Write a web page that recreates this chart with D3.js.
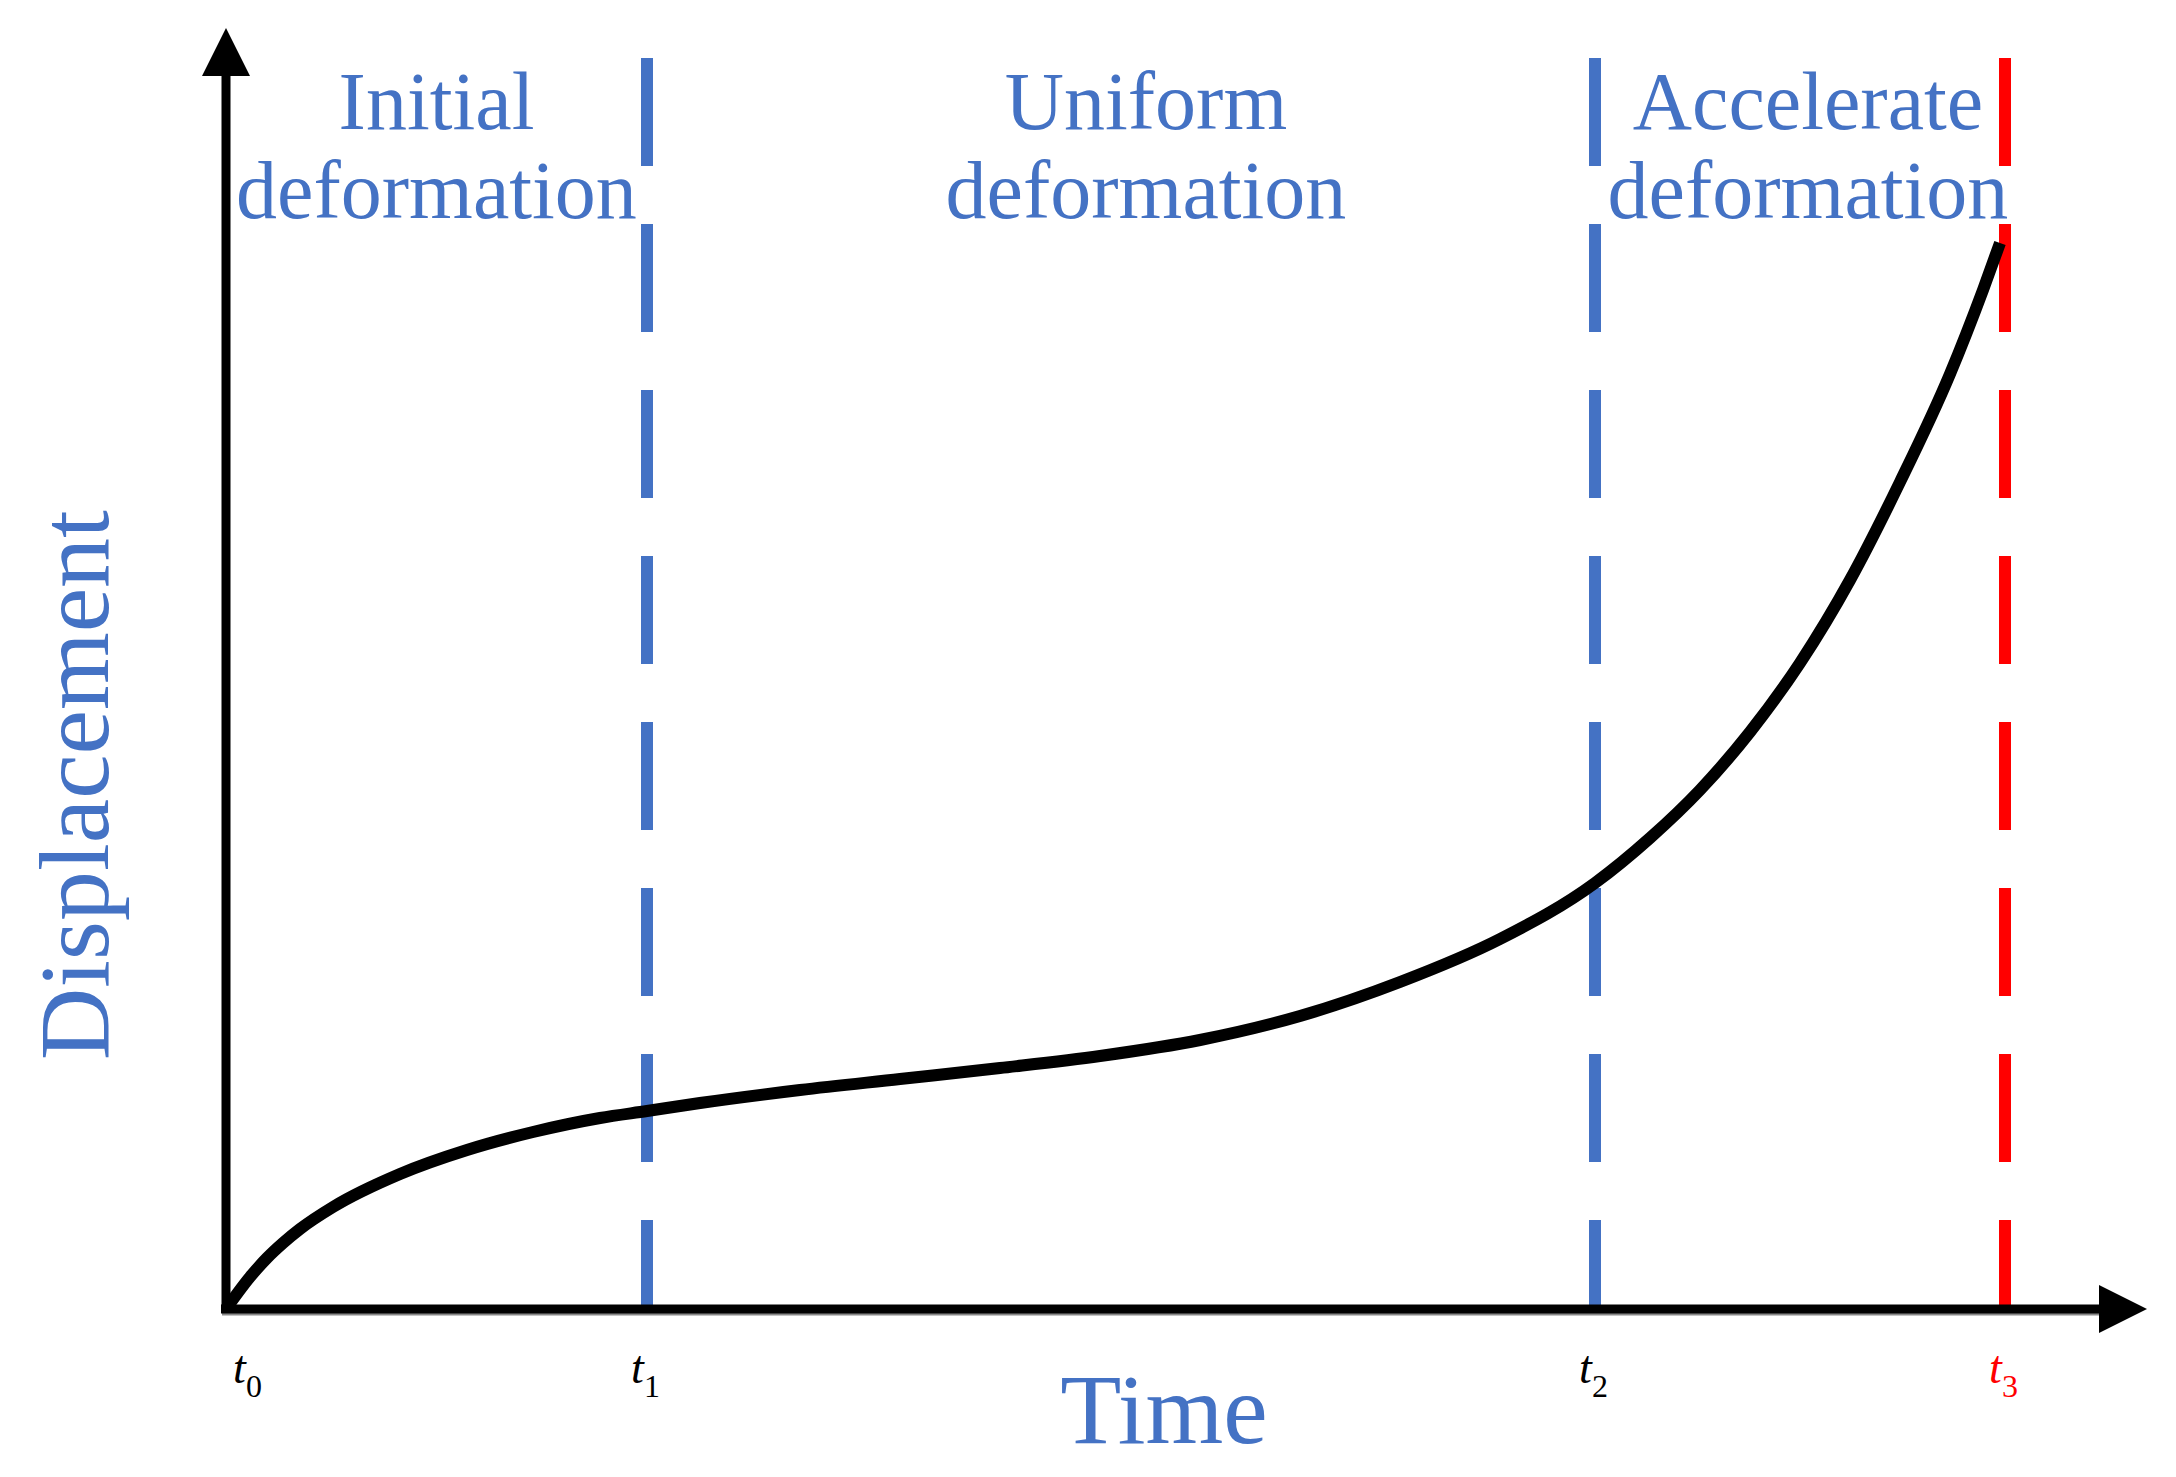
<!DOCTYPE html>
<html>
<head>
<meta charset="utf-8">
<script src="https://cdn.jsdelivr.net/npm/d3@7"></script>
<style>
  html, body { margin: 0; padding: 0; background: #ffffff; }
  svg { display: block; }
</style>
</head>
<body>
<svg id="chart" width="2176" height="1477"></svg>
<script>
// ---------------- data ----------------
const timeValues = [0, 0.24, 0.41, 0.57, 0.74, 1.07, 1.74, 2.41, 3.07, 3.74, 4.21, 4.74, 5.74, 6.74, 7.74,
                    8.74, 9.74, 10.74, 11.74, 12.74, 13.69, 14.24, 14.74, 15.24, 15.74, 16.24,
                    16.74, 17.24, 17.57, 17.74];
const displacementValues = [0, 0.32, 0.51, 0.66, 0.80, 1.02, 1.35, 1.59, 1.77, 1.91, 1.98, 2.06, 2.19, 2.30, 2.41,
                    2.53, 2.69, 2.93, 3.27, 3.70, 4.26, 4.71, 5.19, 5.77, 6.46, 7.29,
                    8.27, 9.35, 10.19, 10.66];
const boundaryTimes = [0, 4.21, 13.69, 17.79];
const boundarySubscripts = ["0", "1", "2", "3"];
const phaseNamesLine1 = ["Initial", "Uniform", "Accelerate"];
const phaseNamesLine2 = ["deformation", "deformation", "deformation"];
const xAxisTitle = "Time";
const yAxisTitle = "Displacement";
const timeMax = 19.21;
const displacementMax = 12.81;
const dashTop = 12.51;

// ---------------- layout ----------------
const svg = d3.select("#chart");
const blue = "#4472C4";
const red = "#FF0000";
const serif = "'Liberation Serif', 'Times New Roman', serif";

const x = d3.scaleLinear().domain([0, timeMax]).range([226, 2147]);
const y = d3.scaleLinear().domain([0, displacementMax]).range([1309, 28]);

// dashed phase boundary lines (t1, t2, t3)
svg.append("g").selectAll("line")
  .data(boundaryTimes.slice(1))
  .join("line")
  .attr("x1", d => x(d)).attr("x2", d => x(d))
  .attr("y1", y(dashTop)).attr("y2", y(0))
  .attr("stroke", (d, i) => i === 2 ? red : blue)
  .attr("stroke-width", 12)
  .attr("stroke-dasharray", "108 58");

// curve
const pts = timeValues.map((t, i) => [t, displacementValues[i]]);
const line = d3.line()
  .x(d => x(d[0]))
  .y(d => y(d[1]))
  .curve(d3.curveMonotoneX);
svg.append("path")
  .datum(pts)
  .attr("d", line)
  .attr("fill", "none")
  .attr("stroke", "#000")
  .attr("stroke-width", 12)
  .attr("stroke-linecap", "butt");

// axes
const axisG = svg.append("g");
const arrowLen = 48, arrowHalf = 24;
// subtle grey shadow under x axis
axisG.append("line")
  .attr("x1", x(0) - 4).attr("x2", x(timeMax) - arrowLen + 2)
  .attr("y1", y(0) + 5).attr("y2", y(0) + 5)
  .attr("stroke", "#888").attr("stroke-width", 3);
// x axis line
axisG.append("line")
  .attr("x1", x(0) - 5).attr("x2", x(timeMax) - arrowLen + 2)
  .attr("y1", y(0)).attr("y2", y(0))
  .attr("stroke", "#000").attr("stroke-width", 9);
// y axis line
axisG.append("line")
  .attr("x1", x(0)).attr("x2", x(0))
  .attr("y1", y(0) + 4).attr("y2", y(displacementMax) + arrowLen - 2)
  .attr("stroke", "#000").attr("stroke-width", 9);
// arrowheads
const xt = x(timeMax), yt = y(0);
axisG.append("path")
  .attr("d", `M${xt},${yt} L${xt - arrowLen},${yt - arrowHalf} L${xt - arrowLen},${yt + arrowHalf} Z`)
  .attr("fill", "#000");
const ax = x(0), ay = y(displacementMax);
axisG.append("path")
  .attr("d", `M${ax},${ay} L${ax - arrowHalf},${ay + arrowLen} L${ax + arrowHalf},${ay + arrowLen} Z`)
  .attr("fill", "#000");

// boundary tick labels t0..t3 via a D3 axis
const tickAxis = d3.axisBottom(x).tickValues(boundaryTimes).tickSize(0).tickFormat("");
const tickG = svg.append("g").attr("transform", `translate(0,${y(0)})`).call(tickAxis);
tickG.select(".domain").remove();
const labelShift = [23, 0, 0, 0];
tickG.selectAll(".tick").each(function(d, i) {
  const g = d3.select(this);
  g.select("text").remove();
  const txt = g.append("text")
    .attr("x", labelShift[i] - 2)
    .attr("y", 74)
    .attr("text-anchor", "middle")
    .attr("font-family", serif)
    .attr("fill", i === 3 ? red : "#000");
  txt.append("tspan").attr("font-style", "italic").attr("font-size", 46).text("t");
  txt.append("tspan").attr("font-size", 32).attr("dy", 14).text(boundarySubscripts[i]);
});

// phase labels
const labelOffsets = [0, 25, 8];
phaseNamesLine1.forEach((name, i) => {
  const cx = (x(boundaryTimes[i]) + x(boundaryTimes[i + 1])) / 2 + labelOffsets[i];
  const t = svg.append("text")
    .attr("text-anchor", "middle")
    .attr("font-family", serif)
    .attr("font-size", 82)
    .attr("fill", blue);
  t.append("tspan").attr("x", cx).attr("y", 129).text(name);
  t.append("tspan").attr("x", cx).attr("y", 218).text(phaseNamesLine2[i]);
});

// axis titles
svg.append("text")
  .attr("x", 1164).attr("y", 1443)
  .attr("text-anchor", "middle")
  .attr("font-family", serif)
  .attr("font-size", 100)
  .attr("fill", blue)
  .text(xAxisTitle);

svg.append("text")
  .attr("transform", "translate(108,785) rotate(-90)")
  .attr("text-anchor", "middle")
  .attr("font-family", serif)
  .attr("font-size", 100)
  .attr("fill", blue)
  .text(yAxisTitle);
</script>
</body>
</html>
